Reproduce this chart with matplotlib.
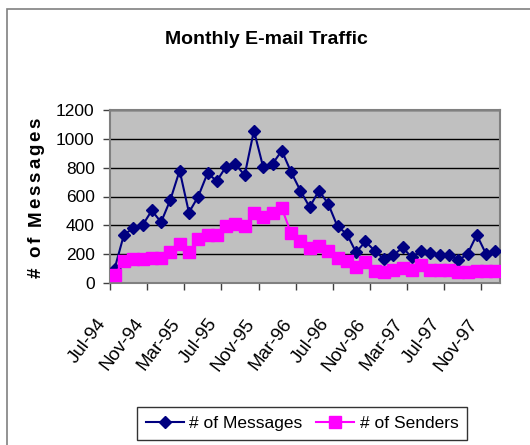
import matplotlib
matplotlib.use("Agg")
import matplotlib.pyplot as plt
from matplotlib.patches import Rectangle
from matplotlib.transforms import ScaledTranslation
from matplotlib.font_manager import FontProperties

months = ["Jul-94","Aug-94","Sep-94","Oct-94","Nov-94","Dec-94",
          "Jan-95","Feb-95","Mar-95","Apr-95","May-95","Jun-95",
          "Jul-95","Aug-95","Sep-95","Oct-95","Nov-95","Dec-95",
          "Jan-96","Feb-96","Mar-96","Apr-96","May-96","Jun-96",
          "Jul-96","Aug-96","Sep-96","Oct-96","Nov-96","Dec-96",
          "Jan-97","Feb-97","Mar-97","Apr-97","May-97","Jun-97",
          "Jul-97","Aug-97","Sep-97","Oct-97","Nov-97","Dec-97"]
messages = [100, 335, 380, 400, 503, 422,
            577, 780, 489, 600, 761, 708,
            807, 826, 747, 1057, 803, 826,
            918, 770, 641, 526, 641, 549,
            392, 341, 212, 288, 224, 166,
            191, 247, 178, 224, 208, 191,
            196, 157, 201, 334, 201, 224]
senders = [58, 150, 166, 166, 173, 173,
           212, 272, 212, 305, 335, 335,
           392, 408, 392, 484, 461, 484,
           519, 346, 288, 242, 254, 224,
           173, 150, 111, 143, 85, 76,
           92, 104, 92, 122, 92, 92,
           92, 76, 76, 85, 85, 81]
yticks = [0, 200, 400, 600, 800, 1000, 1200]
title = 'Monthly E-mail Traffic'
ylabel = '# of Messages'

plt.rcParams['font.family'] = ['Liberation Sans', 'DejaVu Sans']

W, H = 530, 445
fig = plt.figure(figsize=(W/100, H/100), dpi=100)
fig.patch.set_facecolor('white')

# figure border
fig.patches.append(Rectangle((7/W, -0.1), 1.2, 1 - 9/H + 0.1, transform=fig.transFigure,
                             fill=False, edgecolor='#808080', linewidth=1.2))

ax = fig.add_axes([110/W, 1 - 283/H, 390/W, 173/H])
ax.set_facecolor('#C0C0C0')
x = list(range(len(months)))
ax.plot(x, messages, color='#000080', marker='D', markersize=6.5, linewidth=1.5,
        label='# of Messages', zorder=3)
ax.plot(x, senders, color='#FF00FF', marker='s', markersize=8, linewidth=1.5,
        label='# of Senders', zorder=3)

ax.set_xlim(-0.5, len(months) - 0.5)
ax.set_ylim(0, 1200)
ax.set_yticks(yticks)
ax.set_yticklabels([str(v) for v in yticks], fontsize=12.5)
ax.grid(axis='y', color='black', linewidth=1, zorder=1)
ax.set_axisbelow(True)
for s in ax.spines.values():
    s.set_color('#808080')
    s.set_linewidth(1.5)
ax.tick_params(axis='y', length=5, width=1, color='#404040', pad=6)

major = list(range(0, len(months), 4))
ax.set_xticks(major)
ax.set_xticklabels([months[i] for i in major], fontsize=13.5, rotation=53,
                   ha='right', va='center', rotation_mode='anchor')
ax.tick_params(axis='x', which='major', length=0, pad=27)
ax.set_xticks([i - 0.5 for i in range(0, len(months) + 1, 4)], minor=True)
ax.tick_params(axis='x', which='minor', length=5, width=1, color='#404040')
for lab in ax.get_xticklabels():
    lab.set_transform(lab.get_transform() + ScaledTranslation(-12/100, 0, fig.dpi_scale_trans))

fig.text(266/W, 1 - 40/H, title, ha='center', va='center',
         fontsize=14, fontweight='bold')

# y label with wide letter spacing, drawn upward
renderer = fig.canvas.get_renderer()
prop = FontProperties(family=['Liberation Sans', 'DejaVu Sans'], weight='bold', size=13.5)
def tw(s):
    if not s:
        return 0.0
    w, h, d = renderer.get_text_width_height_descent(s, prop, ismath=False)
    return w
total_len = 160.0
natural = tw(ylabel)
extra = (total_len - natural) / (len(ylabel) - 1)
start_y = 278.0  # pixel from top (bottom of label)
base_x = 40.5
for i, ch in enumerate(ylabel):
    off = tw(ylabel[:i]) + i * extra
    fig.text(base_x / W, 1 - (start_y - off) / H, ch, rotation=90,
             rotation_mode='anchor', ha='left', va='baseline',
             fontproperties=prop)

leg = fig.legend(loc='upper center', bbox_to_anchor=(302/W, 1 - 407/H), ncol=2,
                 fontsize=12.5, frameon=True, fancybox=False, edgecolor='black',
                 handlelength=2.2, columnspacing=0.8, handletextpad=0.3,
                 borderpad=0.5, borderaxespad=0)
leg.get_frame().set_linewidth(1)

fig.savefig('out.png', dpi=100)
